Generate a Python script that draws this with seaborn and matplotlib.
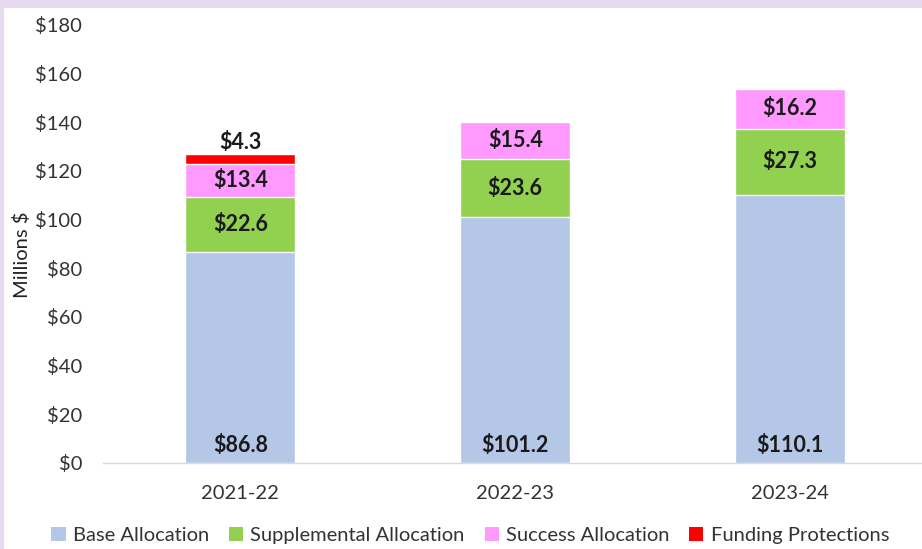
import numpy as np
import pandas as pd
import matplotlib
matplotlib.use("Agg")
import matplotlib.pyplot as plt
from matplotlib.patches import Patch, Rectangle
import seaborn as sns

# 数据
years = ["2021-22", "2022-23", "2023-24"]
base = [86.8, 101.2, 110.1]
supplemental = [22.6, 23.6, 27.3]
success = [13.4, 15.4, 16.2]
protections = [4.3, 0.0, 0.0]

series_names = ["Base Allocation", "Supplemental Allocation",
                "Success Allocation", "Funding Protections"]
colors = ["#B4C7E7", "#92D050", "#FF99FF", "#FF0000"]

sns.set_style("white")
plt.rcParams["font.family"] = ["Lato", "DejaVu Sans"]

layers = [base, supplemental, success, protections]
cum = np.cumsum(np.array(layers), axis=0)  # 每层的累计高度

fig = plt.figure(figsize=(9.22, 5.49), dpi=100)
fig.patch.set_facecolor("#E6DAF0")
# 白色背景区域（左侧和顶部留出淡紫色边）
fig.add_artist(Rectangle((4 / 922, 0), 1, 1 - 8 / 549, transform=fig.transFigure,
                         facecolor="white", edgecolor="none", zorder=-10))

ax = fig.add_axes([103 / 922, 86 / 549, 824.5 / 922, 438 / 549])
ax.set_facecolor("none")

# 从最上层往下画，叠加形成堆积柱
for i in range(len(layers) - 1, -1, -1):
    df = pd.DataFrame({"year": years, "value": cum[i]})
    sns.barplot(data=df, x="year", y="value", color=colors[i], saturation=1,
                width=0.4, ax=ax, errorbar=None)

# 数据标签
lab = dict(ha="center", fontsize=15.5, fontweight="bold", color="#1a1a1a")
for j in range(len(years)):
    # 基础部分标签靠近底部
    ax.text(j, 7, f"${base[j]:.1f}", va="center", **lab)
    for i in (1, 2):
        mid = cum[i][j] - layers[i][j] / 2
        ax.text(j, mid, f"${layers[i][j]:.1f}", va="center", **lab)
    if protections[j] > 0:
        ax.text(j, cum[3][j] + 0.3, f"${protections[j]:.1f}", va="bottom", **lab)

ax.set_ylim(0, 180)
ax.set_xlim(-0.5, 2.5)
ax.set_yticks(np.arange(0, 181, 20))
ax.set_yticklabels([f"${v}" for v in range(0, 181, 20)])
ax.tick_params(axis="both", length=0, labelsize=14.5, labelcolor="#333333")
ax.tick_params(axis="y", pad=15)
ax.tick_params(axis="x", pad=16)
ax.set_xlabel("")
ax.set_ylabel("Millions $", fontsize=14.5, color="#222222")
ax.yaxis.set_label_coords(-72 / 824.5, 0.475)

for s in ["top", "right", "left"]:
    ax.spines[s].set_visible(False)
ax.spines["bottom"].set_color("#D9D9D9")
ax.spines["bottom"].set_linewidth(1)

handles = [Patch(facecolor=c, edgecolor="none") for c in colors]
fig.legend(handles, series_names, loc="center", bbox_to_anchor=(0.51, 0.025),
           ncol=4, frameon=False, fontsize=14.5, handlelength=0.7,
           handleheight=0.7, handletextpad=0.35, columnspacing=1.0,
           labelcolor="#333333")

fig.savefig("out.png", dpi=100, facecolor=fig.get_facecolor())
